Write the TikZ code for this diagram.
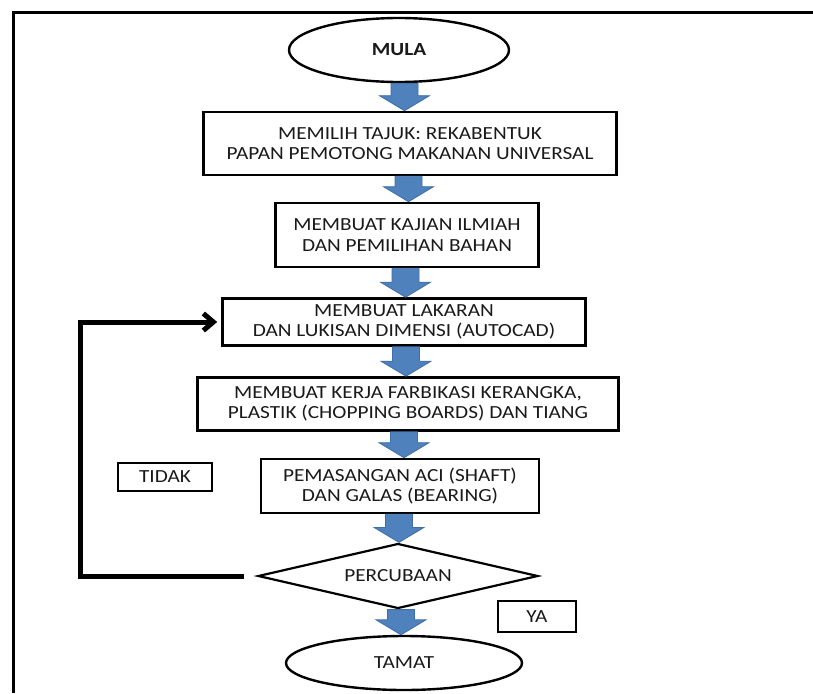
\documentclass[tikz,border=0pt]{standalone}
\usepackage{fontspec}
\setmainfont{Carlito}[FakeStretch=1.15]
\usetikzlibrary{shapes.geometric,arrows.meta,calc}
\definecolor{arrowblue}{HTML}{4F81BD}
\definecolor{arrowedge}{HTML}{3F6FA6}
\definecolor{txt}{HTML}{1A1A1A}
\newcommand\blockarrow[2]{%
  \path let \p1=(#1.south), \p2=(#2.north), \n1={(\x1+\x2)/2} in
    [fill=arrowblue, draw=arrowedge, line width=0.8pt]
    (\n1-13.5pt,\y1) -- (\n1-13.5pt,\y2+15pt) -- (\n1-25pt,\y2+15pt) -- (\n1,\y2)
    -- (\n1+25pt,\y2+15pt) -- (\n1+13.5pt,\y2+15pt) -- (\n1+13.5pt,\y1) -- cycle;}
\begin{document}
\begin{tikzpicture}[x=1pt,y=-1pt,
  every node/.style={text=txt, font=\fontsize{18.5}{20.5}\selectfont},
  stepbox/.style={draw=black, line width=2.6pt, rectangle, align=center, inner sep=0pt},
  termnode/.style={draw=black, line width=2.4pt, ellipse, inner sep=0pt},
  decision/.style={draw=black, line width=2.2pt, diamond, shape aspect=4.3, inner sep=0pt},
  tagbox/.style={draw=black, line width=2.6pt, rectangle, inner sep=0pt},
  loopline/.style={draw=black, line width=5pt},
]
\useasboundingbox (0,0) rectangle (813,693);
\fill[white] (0,0) rectangle (813,693);
\draw[line width=3pt] (13,693) -- (13,13) -- (813,13);

\node[termnode, minimum width=220pt, minimum height=64pt, font=\fontsize{18.5}{20.5}\selectfont\bfseries] (mula) at (399,50) {MULA};
\node[stepbox, minimum width=413pt, minimum height=63pt] (b1) at (410,143.5) {MEMILIH TAJUK: REKABENTUK\\PAPAN PEMOTONG MAKANAN UNIVERSAL};
\node[stepbox, minimum width=263pt, minimum height=64pt] (b2) at (407,235) {MEMBUAT KAJIAN ILMIAH\\DAN PEMILIHAN BAHAN};
\node[stepbox, minimum width=363pt, minimum height=47pt] (b3) at (404,322) {MEMBUAT LAKARAN\\DAN LUKISAN DIMENSI (AUTOCAD)};
\node[stepbox, minimum width=421pt, minimum height=53pt] (b4) at (408,404) {MEMBUAT KERJA FARBIKASI KERANGKA,\\PLASTIK (CHOPPING BOARDS) DAN TIANG};
\node[stepbox, minimum width=278pt, minimum height=54pt] (b5) at (400,486) {PEMASANGAN ACI (SHAFT)\\DAN GALAS (BEARING)};
\node[decision, minimum width=280pt, minimum height=65pt] (dia) at (398,576) {PERCUBAAN};
\node[termnode, minimum width=236pt, minimum height=54pt] (tamat) at (404,663) {TAMAT};
\node[tagbox, minimum width=78pt, minimum height=31pt] (ya) at (537,616.5) {YA};
\node[tagbox, minimum width=94pt, minimum height=28pt] (tidak) at (165,477) {TIDAK};

\blockarrow{mula}{b1}
\blockarrow{b1}{b2}
\blockarrow{b2}{b3}
\blockarrow{b3}{b4}
\blockarrow{b4}{b5}
\blockarrow{b5}{dia}
\blockarrow{dia}{tamat}

\coordinate (lx) at (80,0);
\draw[loopline, -{Straight Barb[length=10pt,width=17pt]}]
  ([xshift=-13pt]dia.west) -- (lx |- dia.west) |- ([xshift=-4pt]b3.west);
\end{tikzpicture}
\end{document}
